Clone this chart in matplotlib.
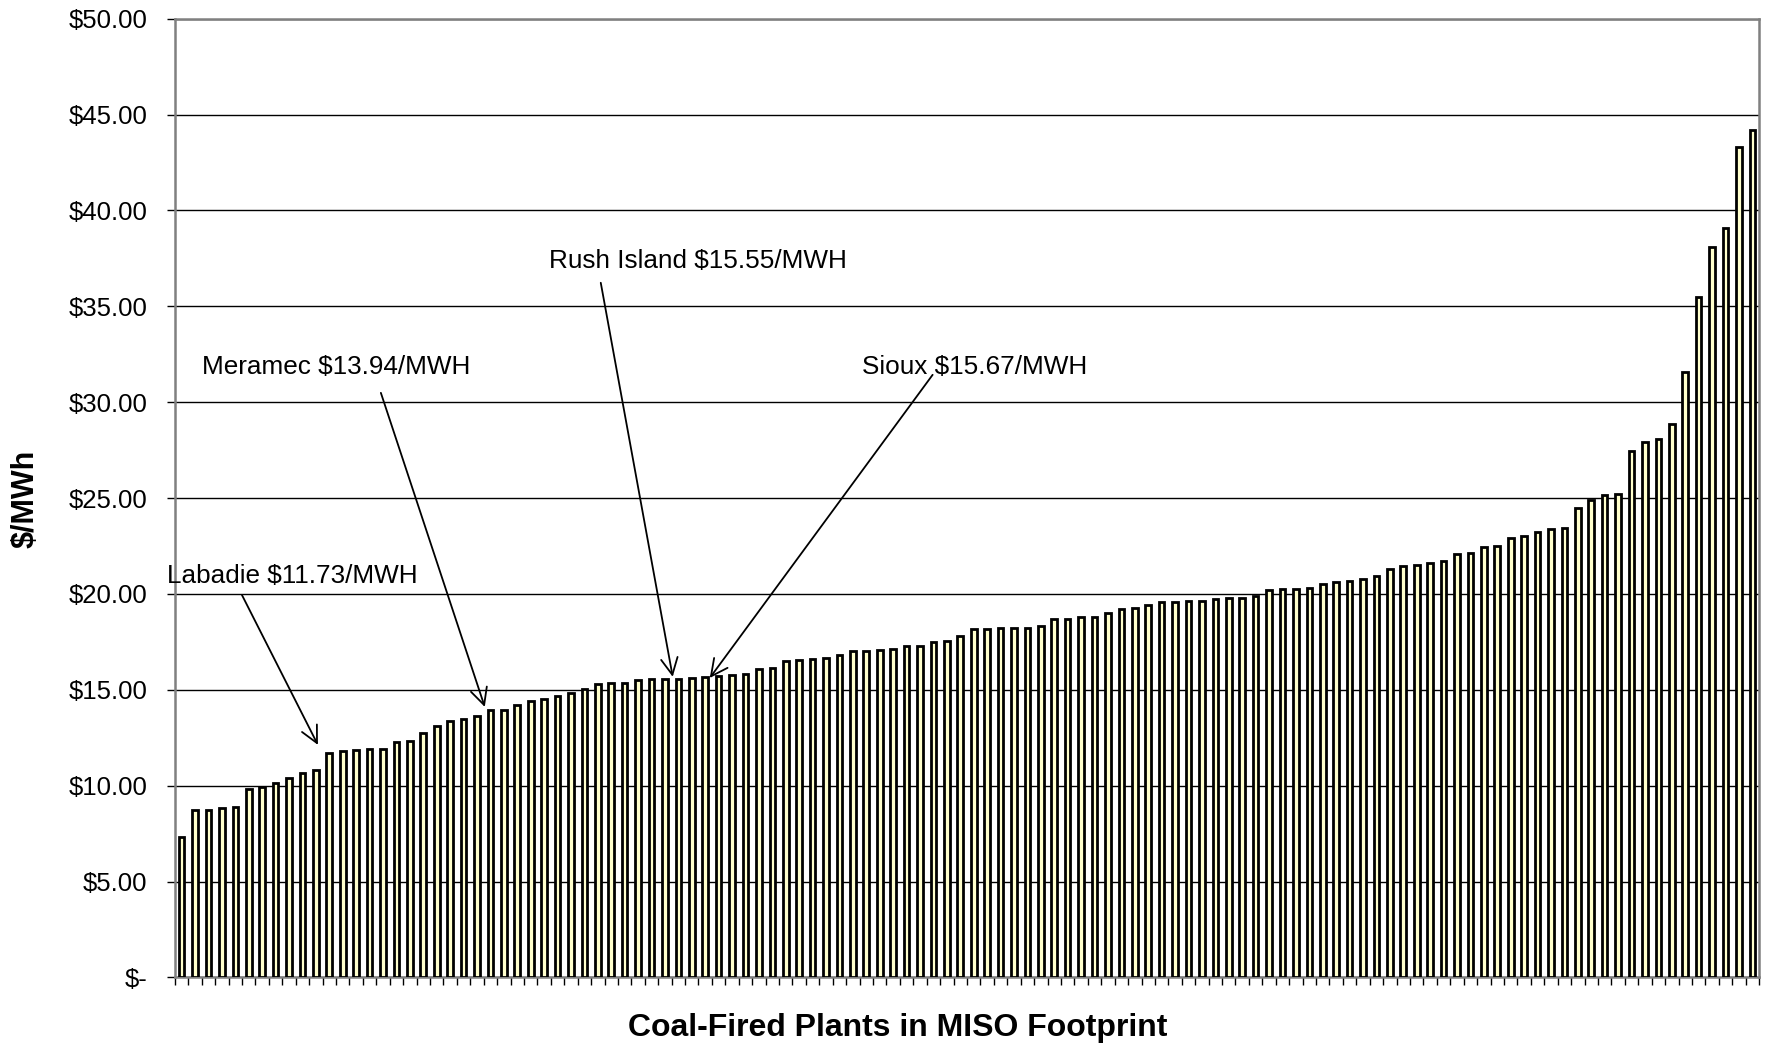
"""Coal-fired plant production cost ranking, MISO footprint."""
import matplotlib
matplotlib.use("Agg")
import matplotlib.pyplot as plt
import numpy as np
from matplotlib.ticker import FuncFormatter

plt.rcParams['font.family'] = ['Liberation Sans', 'DejaVu Sans']

# $/MWh per plant, sorted ascending (118 plants)
cost = [7.34, 8.74, 8.74, 8.84, 8.89, 9.85, 9.92, 10.15, 10.38, 10.65,
        10.84, 11.73, 11.80, 11.87, 11.92, 11.94, 12.27, 12.34, 12.74, 13.14,
        13.40, 13.47, 13.64, 13.94, 13.95, 14.22, 14.42, 14.51, 14.70, 14.86,
        15.05, 15.33, 15.35, 15.35, 15.54, 15.56, 15.55, 15.57, 15.64, 15.67,
        15.73, 15.80, 15.83, 16.11, 16.16, 16.53, 16.58, 16.61, 16.67, 16.84,
        17.02, 17.05, 17.10, 17.15, 17.29, 17.31, 17.49, 17.57, 17.81, 18.16,
        18.18, 18.21, 18.21, 18.25, 18.35, 18.70, 18.70, 18.79, 18.79, 19.03,
        19.22, 19.29, 19.40, 19.57, 19.59, 19.62, 19.62, 19.74, 19.78, 19.81,
        19.88, 20.20, 20.27, 20.28, 20.30, 20.53, 20.60, 20.70, 20.77, 20.93,
        21.31, 21.47, 21.52, 21.62, 21.71, 22.09, 22.16, 22.44, 22.49, 22.94,
        23.05, 23.24, 23.41, 23.43, 24.48, 24.91, 25.15, 25.22, 27.46, 27.95,
        28.09, 28.84, 31.57, 35.51, 38.07, 39.11, 43.29, 44.19]

# callouts: label, arrow tip, arrow tail, text anchor (left, centre) in data units
callouts = [
    ("Labadie $11.73/MWH", (10.15, 12.13), (4.49, 19.95), (-1.1, 20.94)),
    ("Meramec $13.94/MWH", (22.58, 14.11), (14.84, 30.49), (1.51, 31.85)),
    ("Rush Island $15.55/MWH", (36.58, 15.68), (31.22, 36.23), (27.35, 37.37)),
    ("Sioux $15.67/MWH", (39.34, 15.62), (55.94, 31.43), (50.65, 31.85)),
]

fig = plt.figure(figsize=(17.67, 10.47), dpi=100)
ax = fig.add_axes([0.099, 0.0664, 0.8965, 0.9157])

x = np.arange(len(cost))
ax.bar(x, cost, width=0.42, color='#FFFFCC', edgecolor='black', linewidth=2.0, zorder=3)

ax.set_xlim(-0.5, len(cost) - 0.5)
ax.set_ylim(0, 50)
ax.set_yticks(np.arange(0, 51, 5))
ax.yaxis.set_major_formatter(FuncFormatter(lambda v, _: "$-" if v == 0 else f"${v:.2f}"))
ax.set_xticks(np.arange(-0.5, len(cost), 1))
ax.set_xticklabels([])
ax.tick_params(axis='x', direction='out', length=6, width=1, color='black')
ax.tick_params(axis='y', direction='out', length=6, width=1, color='black',
               labelsize=18.5, pad=14)
ax.grid(axis='y', color='black', linewidth=1.0, zorder=0)
for side in ['left', 'bottom', 'top', 'right']:
    ax.spines[side].set_color('#808080')
    ax.spines[side].set_linewidth(1.8)

for label, tip, tail, pos in callouts:
    ax.annotate("", xy=tip, xytext=tail,
                arrowprops=dict(arrowstyle='->', color='black', lw=1.3,
                                mutation_scale=30, shrinkA=0, shrinkB=0),
                zorder=5)
    ax.text(pos[0], pos[1], label, fontsize=18.8, ha='left', va='center', zorder=6)

fig.text(0.508, 0.018, "Coal-Fired Plants in MISO Footprint", fontsize=23,
         fontweight='bold', ha='center', va='center')
fig.text(0.0147, 0.5234, "$/MWh", fontsize=22, fontweight='bold', rotation=90,
         ha='center', va='center', family=['Liberation Sans Narrow', 'Liberation Sans'])

fig.savefig("out.png", dpi=100)
